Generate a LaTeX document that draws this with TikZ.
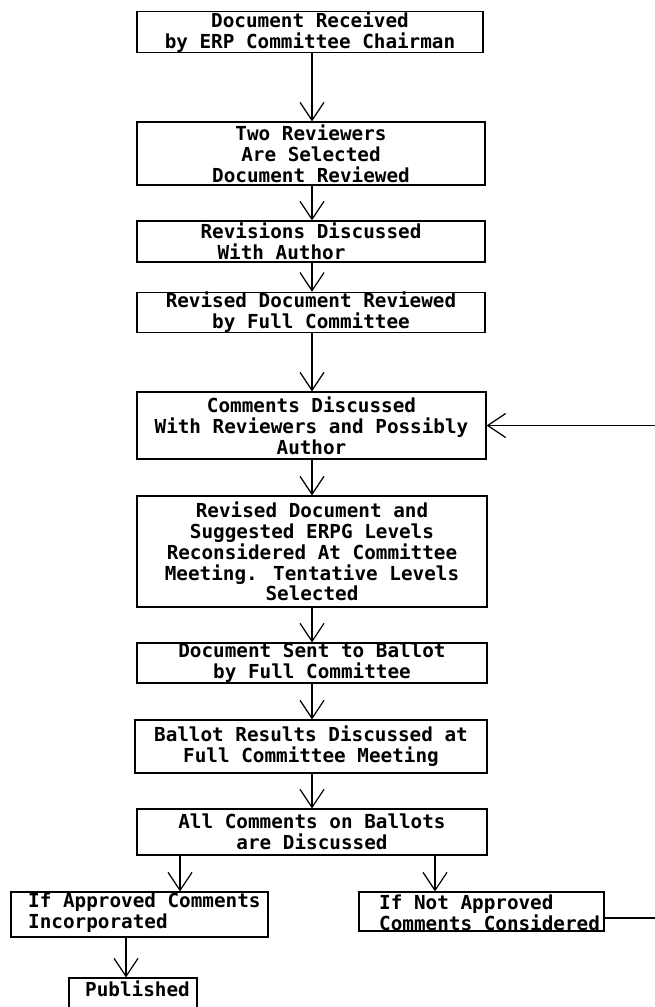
\documentclass[tikz,border=0pt]{standalone}
\usepackage{fontspec}
\newfontfamily\twfont{DejaVu Sans Mono}
\usetikzlibrary{arrows.meta}
\begin{document}
\begin{tikzpicture}[x=1pt,y=-1pt,
  tw/.style={font={\twfont\bfseries\fontsize{19.3pt}{20.8pt}\selectfont}},
  box/.style={draw, line width=1.2pt, inner sep=0pt, tw, align=center},
  txt/.style={inner sep=0pt, tw, align=left, anchor=west},
  flow/.style={line width=1.2pt, -{Straight Barb[length=18pt,width=24pt,line width=1.2pt]}},
  link/.style={line width=1.2pt}]
\useasboundingbox (0,0) rectangle (654,1007);
\coordinate (ax) at (312,0);
\node[box, minimum width=346pt, minimum height=40pt] (b1) at (310,32) {Document Received\\by ERP Committee Chairman};
\node[box, minimum width=348pt, minimum height=63pt] (b2) at (311,153.5) {Two Reviewers\\Are Selected\\Document Reviewed};
\node[box, minimum width=348pt, minimum height=41pt, align=left] (b3) at (311,241.5) {Revisions Discussed\\\hspace*{17pt}With Author};
\node[box, minimum width=348pt, minimum height=39pt] (b4) at (311,312.5) {Revised Document Reviewed\\by Full Committee};
\node[box, minimum width=349pt, minimum height=67pt] (b5) at (311.5,425.5) {Comments Discussed\\With Reviewers and Possibly\\Author};
\node[box, minimum width=350pt, minimum height=111pt] (b6) at (312,551.5) {Revised Document and\\Suggested ERPG Levels\\Reconsidered At Committee\\Meeting. Tentative Levels\\Selected};
\node[box, minimum width=350pt, minimum height=40pt] (b7) at (312,663) {Document Sent to Ballot\\by Full Committee};
\node[box, minimum width=352pt, minimum height=53pt] (b8) at (311,746.5) {Ballot Results Discussed at\\Full Committee Meeting};
\node[box, minimum width=350pt, minimum height=46pt] (b9) at (312,832) {All Comments on Ballots\\are Discussed};
\node[box, minimum width=257pt, minimum height=45pt] (b10) at (139.5,914.5) {};
\node[txt] (t10) at (28,913) {If Approved Comments\\Incorporated};
\node[box, minimum width=245pt, minimum height=39pt] (b11) at (481.5,911.5) {};
\node[txt] (t11) at (379,912.5) {If Not Approved\\Comments Considered};
\node[box, minimum width=128pt, minimum height=60pt] (b12) at (133,1008) {};
\node[txt] (t12) at (85,989) {Published};
\draw[flow] (b1.south -| ax) -- (b2.north -| ax);
\draw[flow] (b2.south -| ax) -- (b3.north -| ax);
\draw[flow] (b3.south -| ax) -- (b4.north -| ax);
\draw[flow] (b4.south -| ax) -- (b5.north -| ax);
\draw[flow] (b5.south -| ax) -- (b6.north -| ax);
\draw[flow] (b6.south -| ax) -- (b7.north -| ax);
\draw[flow] (b7.south -| ax) -- (b8.north -| ax);
\draw[flow] (b8.south -| ax) -- (b9.north -| ax);
\coordinate (axl) at (180,0);
\coordinate (axr) at (435,0);
\coordinate (axp) at (126,0);
\draw[flow] (b9.south -| axl) -- (b10.north -| axl);
\draw[flow] (b9.south -| axr) -- (b11.north -| axr);
\draw[flow] (b10.south -| axp) -- (b12.north -| axp);
\coordinate (fb) at (657,918);
\draw[flow] ([yshift=-6.5pt]b11.east) -- (fb) |- (b5.east);
\end{tikzpicture}
\end{document}
